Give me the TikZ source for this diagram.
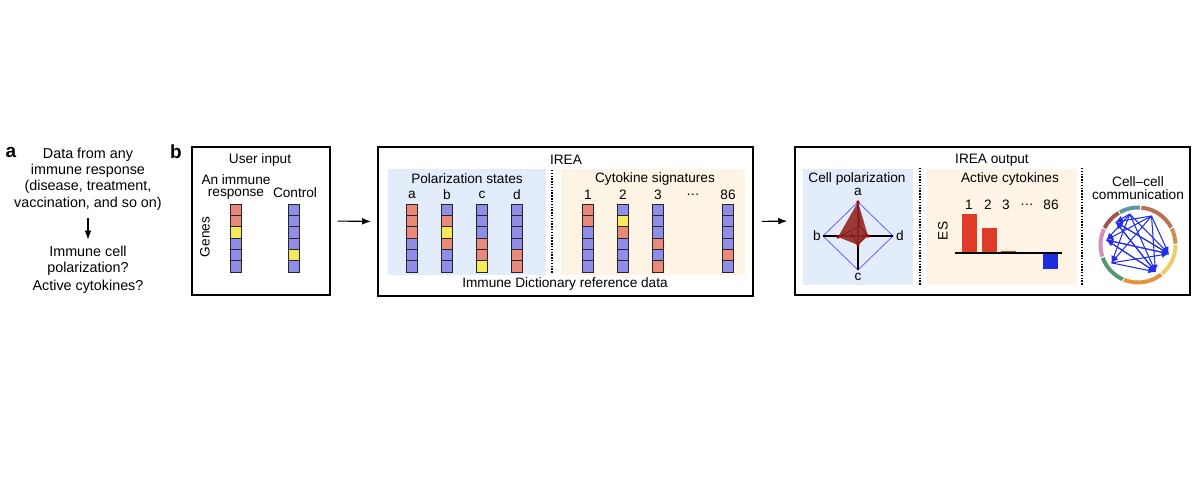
\documentclass[tikz,border=0pt]{standalone}
\usepackage{fontspec}
\setmainfont{Liberation Sans}
\usetikzlibrary{arrows.meta}
\definecolor{cR}{RGB}{233,137,122}
\definecolor{cB}{RGB}{143,141,232}
\definecolor{cY}{RGB}{247,233,92}
\definecolor{pblue}{RGB}{227,236,250}
\definecolor{ppeach}{RGB}{253,244,230}
\definecolor{barred}{RGB}{222,60,40}
\definecolor{barblue}{RGB}{30,45,225}
\definecolor{polyred}{RGB}{150,38,32}
\definecolor{talkblue}{RGB}{35,45,235}
\definecolor{rgA}{RGB}{96,150,160}
\definecolor{rgB}{RGB}{185,110,85}
\definecolor{rgC}{RGB}{205,140,80}
\definecolor{rgD}{RGB}{236,206,100}
\definecolor{rgE}{RGB}{230,145,60}
\definecolor{rgF}{RGB}{85,150,115}
\definecolor{rgG}{RGB}{212,140,186}
\definecolor{rgH}{RGB}{160,85,70}
\begin{document}
\begin{tikzpicture}[x=0.025cm,y=-0.025cm,font=\fontsize{9.7}{11.4}\selectfont,
  cell/.style={draw=black!85,line width=0.5pt,minimum width=0.275cm,minimum height=0.283cm,inner sep=0pt},
  bigbox/.style={draw,line width=1.1pt,inner sep=0pt},
  bg/.style={inner sep=0pt,minimum height=2.9cm},
  flow/.style={-{Latex[length=6.5pt,width=4.8pt]},line width=0.8pt},
  sep/.style={densely dotted,line width=1pt},
  lbl/.style={font=\fontsize{13.5}{15}\selectfont\bfseries},
  qtext/.style={align=center,font=\fontsize{10.2}{11.6}\selectfont},
  talk/.style={-{Latex[length=5pt,width=4pt]},talkblue,line width=0.75pt}]
 \useasboundingbox (0,0) rectangle (1200,477);

 % a
 \node[lbl](lbla) at (11,152){a};
 \node[qtext](data) at (88,179){Data from any\\immune response\\(disease, treatment,\\vaccination, and so on)};
 \node[qtext](quest) at (88,261){Immune cell\\polarization?};
 \node[qtext](activ) at (88,287){Active cytokines?};
 \draw[flow,shorten <=2pt,shorten >=1pt] (data) -- (quest);

 % b
 \node[lbl](lblb) at (176,152){b};
 \node[bigbox,minimum width=3.45cm,minimum height=3.7cm](user) at (261,221){};
 \node(usertit) at (260,160){User input};
 \node[align=center,font=\fontsize{9.7}{9.2}\selectfont](resp) at (236,187){An immune\\response};
 \node(ctl) at (295,193){Control};
 \node[rotate=90](genes) at (205,237){Genes};

 \node[bigbox,minimum width=9.375cm,minimum height=3.725cm](irea) at (565.5,221.5){};
 \node[bg,fill=pblue,minimum width=3.95cm,minimum height=2.65cm](polbg) at (467,222){};
 \node[bg,fill=ppeach,minimum width=4.6cm,minimum height=2.65cm](cytbg) at (653,222){};
 \draw[sep] (552,170) -- (552,274);
 \node(ireatit) at (566,160){IREA};
 \node(poltit) at (467,179){Polarization states};
 \node(cyttit) at (655,179){Cytokine signatures};
 \node(dict) at (565,284){Immune Dictionary reference data};
 \foreach \n/\x in {a/412,b/447,c/482,d/517}
  \node(t\n) at (\x,195){\n};
 \foreach \n/\x in {1/588,2/623,3/658,{…}/693,86/728}
  \node at (\x,195){\n};

 % gene columns
 \foreach \nm/\x/\cols in {in/236/{cR,cR,cY,cB,cB,cB},ctl/294/{cB,cB,cB,cB,cY,cB},
   pa/412/{cR,cR,cR,cB,cB,cB},pb/447/{cB,cR,cY,cR,cB,cB},pc/482/{cB,cB,cB,cR,cR,cY},pd/517/{cB,cB,cB,cB,cR,cR},
   ka/588/{cR,cR,cB,cB,cB,cB},kb/623/{cB,cY,cR,cB,cB,cB},kc/658/{cB,cB,cB,cR,cB,cR},kz/728/{cB,cB,cB,cB,cR,cB}}
  \foreach \c [count=\i] in \cols
   \node[cell,fill=\c](\nm\i) at (\x,{198.33+11.33*\i}){};

 \node[bigbox,minimum width=9.875cm,minimum height=3.7cm](out) at (992.5,221){};
 \draw[flow,shorten <=0.17cm,shorten >=0.15cm] (user.east) -- (irea.west);
 \draw[flow,shorten <=0.2cm,shorten >=0.17cm] (irea.east) -- (out.west);
 \node(outtit) at (992,160){IREA output};
 \node[bg,fill=pblue,minimum width=2.75cm](cellbg) at (858,227){};
 \node[bg,fill=ppeach,minimum width=3.75cm](actbg) at (1002,227){};
 \draw[sep] (920,168) -- (920,286);
 \draw[sep] (1082,168) -- (1082,286);

 % radar
 \node(celltit) at (857,179){Cell polarization};
 \coordinate(va) at (858,202);
 \coordinate(vb) at (823,236);
 \coordinate(vc) at (858,270);
 \coordinate(vd) at (893,236);
 \coordinate(ra) at (858,202);
 \coordinate(rb) at (838,237);
 \coordinate(rc) at (858,245);
 \coordinate(rd) at (868,236);
 \draw[blue!60,line width=0.6pt] (va) -- (vb) -- (vc) -- (vd) -- cycle;
 \draw[line width=1.1pt] (vb) -- (vd) (va) -- (vc);
 \fill[polyred,opacity=0.9] (ra) -- (rb) -- (rc) -- (rd) -- cycle;
 \draw[polyred!70!black,line width=0.4pt] (ra) -- (860,226) -- (rb) (860,226) -- (rd) (851,233) -- (rc) -- (866,234);
 \foreach \v in {ra,rb,rc,rd}
  \fill[red!75!black] (\v) circle (1.3pt);
 \node(la) at (858,192){a};
 \node(lb) at (817,236){b};
 \node(lc) at (858,277){c};
 \node(ld) at (900,236){d};

 % bars
 \node(acttit) at (1010,179){Active cytokines};
 \node[rotate=90](es) at (943,231){ES};
 \foreach \n/\x in {1/969,2/988,3/1006,{…}/1027,86/1051}
  \node at (\x,205){\n};
 \fill[barred] (962,214) rectangle (977,253);
 \fill[barred] (982,228) rectangle (997,253);
 \fill[barred] (1001,251) rectangle (1016,253);
 \fill[barblue] (1043,253) rectangle (1058,269);
 \draw[line width=1pt] (955,253) -- (1062,253);

 % cell-cell
 \node[align=center,font=\fontsize{9.7}{9.5}\selectfont](commtit) at (1138,188){Cell--cell\\communication};
 \begin{scope}[shift={(1138,245)},y=0.025cm]
  \foreach \a/\b/\c in {87/119/rgA,28/85/rgB,2/26/rgC,-50/0/rgD,
    -112/-52/rgE,-160/-114/rgF,155/198/rgG,121/153/rgH}
   \draw[line width=2.8pt,\c] (\a:37.5) arc[start angle=\a,end angle=\b,radius=37.5];
  \foreach \n/\a in {1/105,2/65,3/134,4/171,5/214,6/303,7/344}
   \coordinate(p\n) at (\a:32);
  \foreach \s/\t in {1/3,1/4,1/5,1/6,1/7,2/3,2/4,2/5,2/6,2/7,3/6,3/7,4/6,4/7,5/6,5/7,6/4,7/3,7/4,6/3}
   \draw[talk] (p\s) -- (p\t);
 \end{scope}
\end{tikzpicture}
\end{document}
